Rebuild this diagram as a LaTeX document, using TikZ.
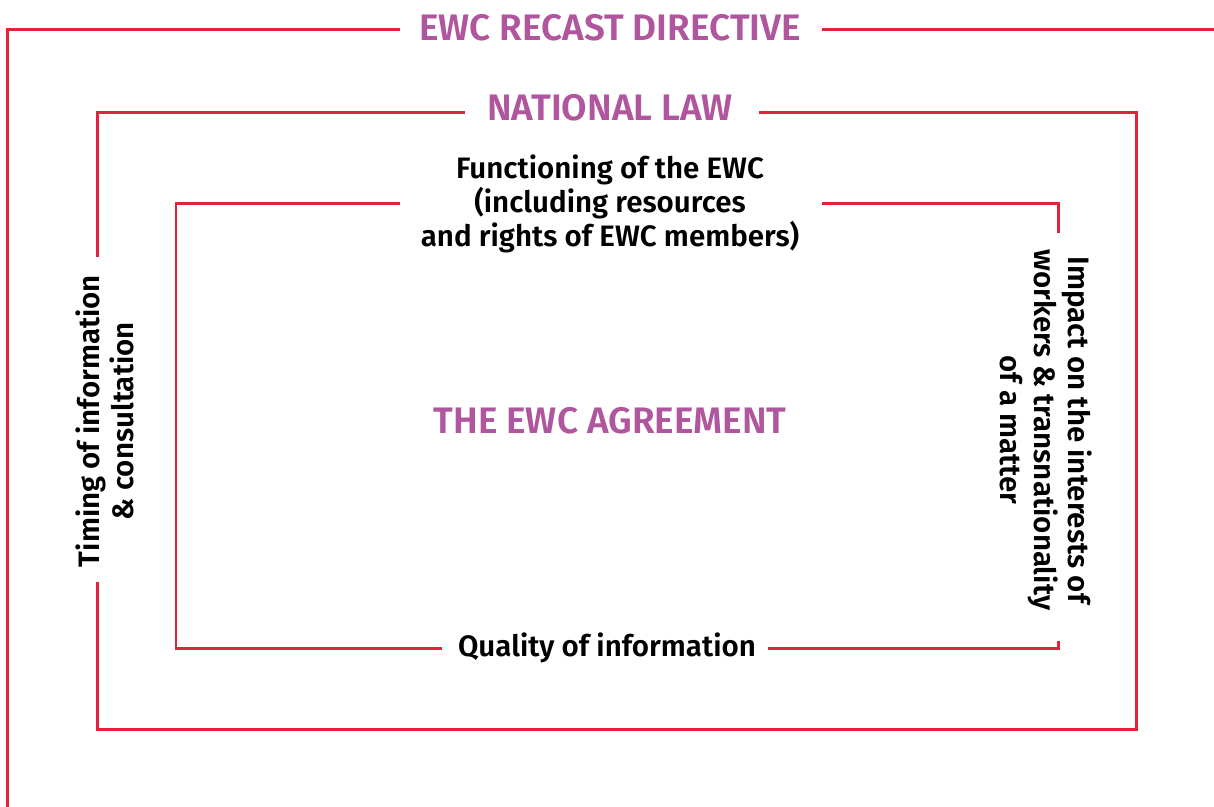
\documentclass[tikz,border=0pt]{standalone}
\usepackage{fontspec}
\IfFontExistsTF{Fira Sans SemiBold}
  {\setmainfont{Fira Sans}[BoldFont={Fira Sans SemiBold}]}
  {\setmainfont{Fira Sans}}
\definecolor{ewcred}{HTML}{E0223A}
\definecolor{ewcpurple}{HTML}{AF569E}
\tikzset{
  frame/.style={draw=ewcred, line width=1.7pt},
  heading/.style={text=ewcpurple, inner sep=0pt, font=\fontsize{21}{26}\selectfont\bfseries},
  topic/.style={align=center, inner sep=0pt, font=\fontsize{16.8}{19.3}\selectfont\bfseries},
}
\begin{document}
\begin{tikzpicture}[x=0.02cm,y=-0.02cm]
        \useasboundingbox (0,0) rectangle (1214,806);

        \node[heading] (directive) at (610,28) {EWC RECAST DIRECTIVE};
        \node[heading] (law) at (610,108) {NATIONAL LAW};
        \node[heading] (agreement) at (610,421) {THE EWC AGREEMENT};

        \node[topic] (functioning) at (610,204) {Functioning of the EWC\\(including resources\\and rights of EWC members)};
        \node[topic] (quality) at (607,648) {Quality of information};
        \node[topic, rotate=90] (timing) at (105,421) {Timing of information\\\& consultation};
        \node[topic, rotate=-90] (impact) at (1046,430) {Impact on the interests of\\workers \& transnationality\\of a matter};

        \draw[frame] (400,29.5) -- (7.5,29.5) -- (7.5,820);
        \draw[frame] (822,29.5) -- (1215.5,29.5) -- (1215.5,820);

        \draw[frame] (465,112.5) -- (97.5,112.5) -- (97.5,257);
        \draw[frame] (97.5,582) -- (97.5,729.5) -- (1136,729.5) -- (1136,112.5) -- (759,112.5);

        \draw[frame] (400,203) -- (176,203) -- (176,648) -- (442,648);
        \draw[frame] (768,648) -- (1058.5,648) -- (1058.5,641);
        \draw[frame] (1058.5,233) -- (1058.5,203) -- (822,203);
      \end{tikzpicture}
\end{document}
